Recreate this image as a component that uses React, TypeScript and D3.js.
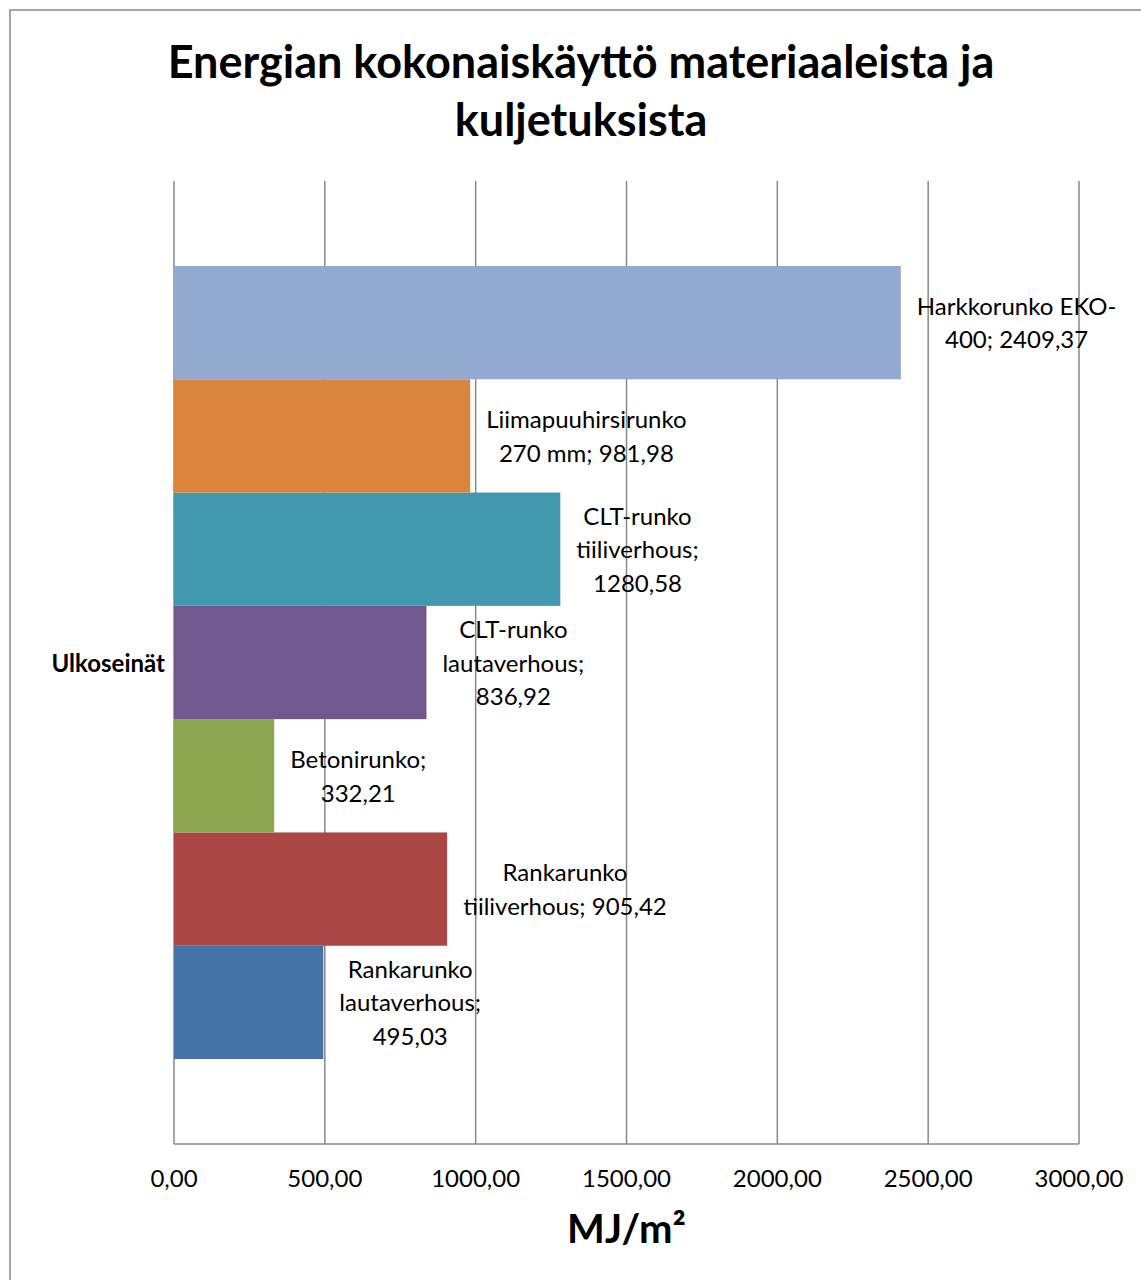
import React, { useEffect } from "react";
import * as d3 from "d3";

const seriesNames: string[][] = [
  ["Rankarunko", "lautaverhous;", "495,03"],
  ["Rankarunko", "tiiliverhous; 905,42"],
  ["Betonirunko;", "332,21"],
  ["CLT-runko", "lautaverhous;", "836,92"],
  ["CLT-runko", "tiiliverhous;", "1280,58"],
  ["Liimapuuhirsirunko", "270 mm; 981,98"],
  ["Harkkorunko EKO-", "400; 2409,37"],
];
const seriesValues: number[] = [495.03, 905.42, 332.21, 836.92, 1280.58, 981.98, 2409.37];
const seriesColors: string[] = ["#4572A7", "#AA4643", "#89A54E", "#71588F", "#4198AF", "#DB843D", "#93A9CF"];
const xTicks: number[] = [0, 500, 1000, 1500, 2000, 2500, 3000];
const category = "Ulkoseinät";
const titleLines = ["Energian kokonaiskäyttö materiaaleista ja", "kuljetuksista"];
const axisTitle = "MJ/m²";

const W = 1141;
const H = 1280;
const FONT = "Lato, 'DejaVu Sans', sans-serif";
const LABEL_SIZE = 24;

let ctx: CanvasRenderingContext2D | null = null;
function measure(text: string, font: string): number {
  if (!ctx) ctx = document.createElement("canvas").getContext("2d");
  if (!ctx) return text.length * 10;
  ctx.font = font;
  return ctx.measureText(text).width;
}

export default function App() {
  useEffect(() => {
    document.body.style.margin = "0";
  }, []);

  const plotLeft = 174;
  const plotRight = 1079;
  const plotTop = 181;
  const plotBottom = 1144;

  const x = d3.scaleLinear().domain([0, 3000]).range([plotLeft, plotRight]);
  const n = seriesValues.length;
  const total = plotBottom - plotTop;
  const barH = total / (n + 1.5);
  const gap = (barH * 1.5) / 2;
  const yOf = (i: number) => plotBottom - gap - (i + 1) * barH;
  const fmt = (v: number) => d3.format(".2f")(v).replace(".", ",");

  const lineH = 33.5;

  return (
    <svg width={W} height={H} style={{ display: "block" }} fontFamily={FONT}>
      <rect x={0} y={0} width={W} height={H} fill="#fff" />
      <rect x={10} y={10} width={W + 20} height={H + 20} fill="none" stroke="#888" strokeWidth={1.5} />
      {titleLines.map((t, i) => (
        <text key={t} x={581} y={78 + i * 58} textAnchor="middle" fontSize={45} fontWeight="bold" fill="#000">
          {t}
        </text>
      ))}
      {xTicks.map((t) => (
        <line key={"g" + t} x1={x(t)} x2={x(t)} y1={plotTop} y2={plotBottom} stroke="#888" strokeWidth={1.5} />
      ))}
      <line x1={plotLeft} x2={plotRight} y1={plotBottom} y2={plotBottom} stroke="#888" strokeWidth={1.5} />
      {seriesValues.map((v, i) => (
        <rect key={"b" + i} x={x(0)} y={yOf(i)} width={x(v) - x(0)} height={barH} fill={seriesColors[i]} />
      ))}
      {seriesValues.map((v, i) => {
        const lines = seriesNames[i];
        const font = `${LABEL_SIZE}px ${FONT}`;
        const maxW = Math.max(...lines.map((l) => measure(l, font)));
        const cx = x(v) + 16 + maxW / 2;
        const cy = yOf(i) + barH / 2;
        return (
          <text key={"l" + i} textAnchor="middle" fontSize={LABEL_SIZE} fill="#000">
            {lines.map((l, j) => (
              <tspan key={j} x={cx} y={cy + (j - (lines.length - 1) / 2) * lineH + 9}>
                {l}
              </tspan>
            ))}
          </text>
        );
      })}
      {xTicks.map((t) => (
        <text key={"t" + t} x={x(t)} y={1187} textAnchor="middle" fontSize={LABEL_SIZE} fill="#000">
          {fmt(t)}
        </text>
      ))}
      <text x={165} y={672} textAnchor="end" fontSize={24} fontWeight="bold" fill="#000">
        {category}
      </text>
      <text x={(plotLeft + plotRight) / 2} y={1243} textAnchor="middle" fontSize={40} fontWeight="bold" fill="#000">
        {axisTitle}
      </text>
    </svg>
  );
}
